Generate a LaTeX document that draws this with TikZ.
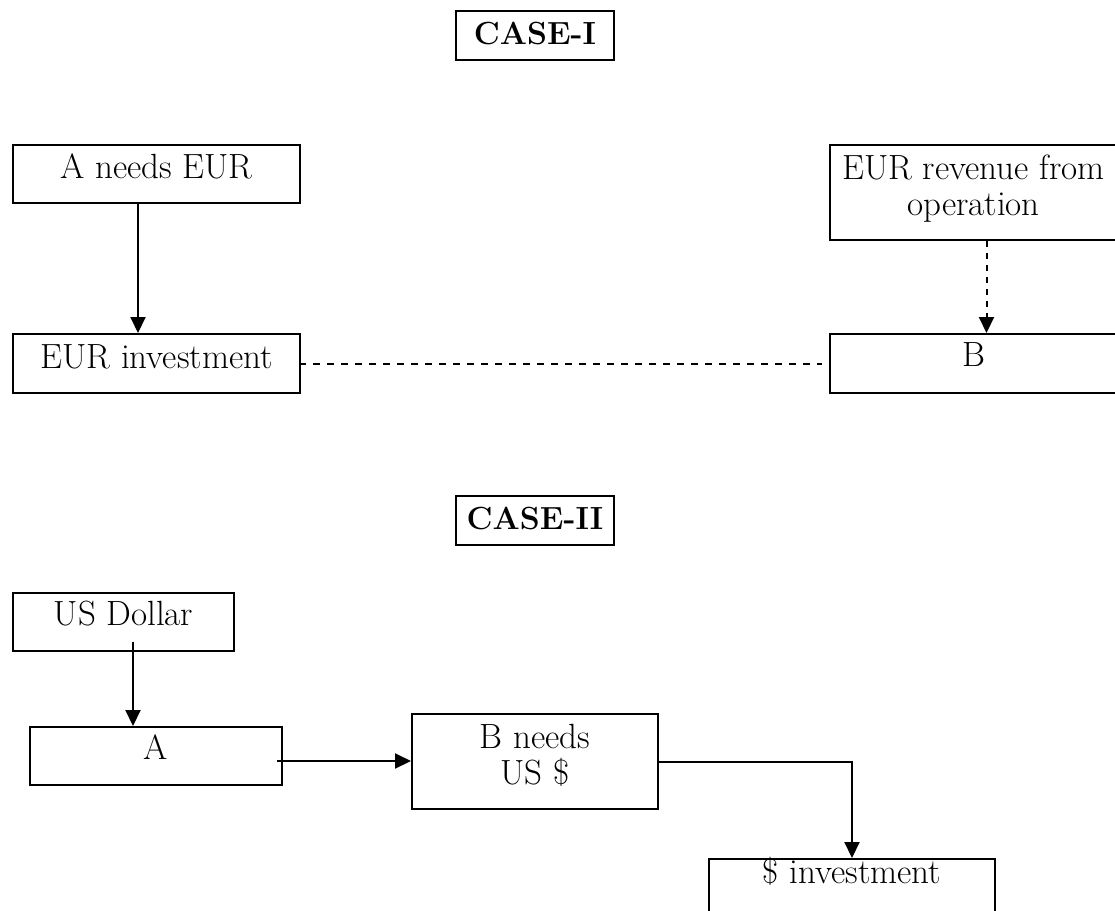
\documentclass[tikz,border=0pt]{standalone}
\usetikzlibrary{arrows.meta}
\begin{document}
\begin{tikzpicture}[x=0.5pt,y=-0.5pt,
  box/.style={draw, line width=1pt, anchor=north west, inner xsep=0pt, inner ysep=0pt,
    align=center, font=\fontsize{17.5}{18}\selectfont},
  casebox/.style={box, font=\fontsize{16}{18}\selectfont\bfseries},
  arr/.style={line width=1pt, -{Triangle[length=8pt,width=7.5pt]}},
  dasharr/.style={arr, dash pattern=on 3pt off 3pt},
  dashline/.style={line width=1pt, dash pattern=on 3.5pt off 3.5pt}]
\useasboundingbox (0,0) rectangle (1115,911);

% Case I
\node[casebox, minimum width=79pt, text height=16.5pt, text depth=8pt] (case1) at (455,10) {CASE-I};
\node[box, minimum width=143.5pt, text height=16.5pt, text depth=12.5pt] (aeur) at (12,144) {A needs EUR};
\node[box, minimum width=143.5pt, text height=17pt, text depth=12.5pt] (eurinv) at (12,333) {EUR investment};
\node[box, minimum width=143.5pt, text height=35pt, text depth=12.5pt] (rev) at (829,144) {EUR revenue from\\operation};
\node[box, minimum width=143.5pt, text height=16pt, text depth=13.5pt] (bnode) at (829,333) {B};

\draw[arr] ([xshift=-9.25pt]aeur.south) -- ([xshift=-9.25pt]eurinv.north);
\draw[dasharr] ([xshift=6.5pt]rev.south) -- ([xshift=6.5pt]bnode.north);
\draw[dashline] ([xshift=-1pt]eurinv.east) -- ([xshift=-3.5pt]bnode.west);

% Case II
\node[casebox, minimum width=79pt, text height=16.5pt, text depth=8pt] (case2) at (455,495) {CASE-II};
\node[box, minimum width=110.5pt, text height=16pt, text depth=13pt] (usd) at (12,592) {US Dollar};
\node[box, minimum width=126pt, text height=16pt, text depth=13pt] (anode) at (29,726) {A};
\node[box, minimum width=123pt, text height=35pt, text depth=12.5pt] (bneeds) at (411,713) {B needs\\US \$};
\node[box, minimum width=143pt, text height=12pt, text depth=17.5pt] (dinv) at (708,858) {\$ investment};

\coordinate (usdout) at ([xshift=4.75pt,yshift=5pt]usd.south);
\draw[arr] (usdout) -- (usdout |- anode.north);
\draw[arr] ([xshift=-3pt,yshift=-2.5pt]anode.east) -- ([yshift=-2.5pt]anode.east -| bneeds.west);
\draw[arr] (bneeds.east) -| (dinv.north);
\end{tikzpicture}
\end{document}
